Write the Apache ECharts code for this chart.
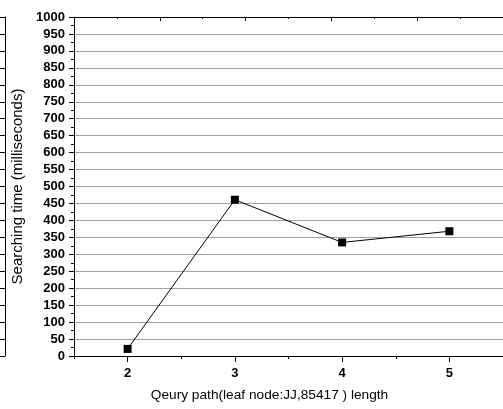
<!DOCTYPE html>
<html>
<head>
<meta charset="utf-8">
<script src="https://cdn.jsdelivr.net/npm/echarts@6/dist/echarts.min.js"></script>
<style>
html,body{margin:0;padding:0;background:#fff;}
#c{width:503px;height:409px;}
</style>
</head>
<body>
<div id="c"></div>
<script>
var pathLengths = [2, 3, 4, 5];
var searchTimes = [21, 461, 335, 368];
var minorXTicks = [1.5, 2.5, 3.5, 4.5, 5.5];
var yName = 'Searching time (milliseconds)';
var xName = 'Qeury path(leaf node:JJ,85417 ) length';

var chart = echarts.init(document.getElementById('c'), null, {renderer: 'canvas'});
var font = 'Liberation Sans, Arial, sans-serif';
var data = pathLengths.map(function (x, i) { return [x, searchTimes[i]]; });

chart.setOption({
  animation: false,
  backgroundColor: '#fff',
  grid: [
    {left: 74, right: -5, top: 17, bottom: 53, containLabel: false},
    {left: 0, width: 5, top: 17, bottom: 53, containLabel: false}
  ],
  xAxis: [
    {
      type: 'value', gridIndex: 0, position: 'bottom', min: 1.5, max: 5.5,
      name: xName, nameLocation: 'middle', nameGap: 32,
      nameTextStyle: {fontFamily: font, fontSize: 13.7, color: '#000', padding: [0, 38, 0, 0]},
      axisLine: {show: true, onZero: false, lineStyle: {color: '#000', width: 1}},
      axisTick: {show: true, customValues: pathLengths, length: 6, lineStyle: {color: '#000', width: 1}},
      axisLabel: {customValues: pathLengths, margin: 11, fontFamily: font, fontSize: 13, fontWeight: 'bold', color: '#000'},
      splitLine: {show: false}
    },
    {
      type: 'value', gridIndex: 0, position: 'bottom', min: 1.5, max: 5.5,
      axisLine: {show: false},
      axisTick: {show: true, customValues: minorXTicks, length: 3, lineStyle: {color: '#000', width: 1}},
      axisLabel: {show: false},
      splitLine: {show: false}
    },
    {
      type: 'value', gridIndex: 0, position: 'top', min: 0, max: 5, interval: 1,
      axisLine: {show: true, onZero: false, lineStyle: {color: '#000', width: 1}},
      axisTick: {show: true, inside: true, length: 4, lineStyle: {color: '#000', width: 1}},
      minorTick: {show: true, splitNumber: 2, length: 2, lineStyle: {color: '#000', width: 1}},
      axisLabel: {show: false},
      splitLine: {show: false}
    },
    {
      type: 'value', gridIndex: 1, show: false, min: 0, max: 1
    }
  ],
  yAxis: [
    {
      type: 'value', gridIndex: 0, position: 'left', min: 0, max: 1000, interval: 50,
      name: yName, nameLocation: 'middle', nameGap: 47, nameRotate: 90,
      nameTextStyle: {fontFamily: font, fontSize: 15, color: '#000'},
      axisLine: {show: true, onZero: false, lineStyle: {color: '#000', width: 1}},
      axisTick: {show: true, length: 5, lineStyle: {color: '#000', width: 1}},
      minorTick: {show: true, splitNumber: 2, length: 3, lineStyle: {color: '#000', width: 1}},
      axisLabel: {margin: 9, fontFamily: font, fontSize: 13, fontWeight: 'bold', color: '#000',
        formatter: function (v) { return String(v); }},
      splitLine: {show: true, lineStyle: {color: '#a0a0a0', width: 1}}
    },
    {
      type: 'value', gridIndex: 1, position: 'right', min: 0, max: 1000, interval: 50,
      axisLine: {show: true, onZero: false, lineStyle: {color: '#000', width: 1}},
      axisTick: {show: true, inside: true, length: 5, lineStyle: {color: '#000', width: 1}},
      axisLabel: {show: false},
      splitLine: {show: false}
    }
  ],
  series: [{
    type: 'line',
    xAxisIndex: 0, yAxisIndex: 0,
    data: data,
    symbol: 'rect', symbolSize: 8,
    itemStyle: {color: '#000'},
    lineStyle: {color: '#000', width: 1},
    z: 5
  }]
});
</script>
</body>
</html>
